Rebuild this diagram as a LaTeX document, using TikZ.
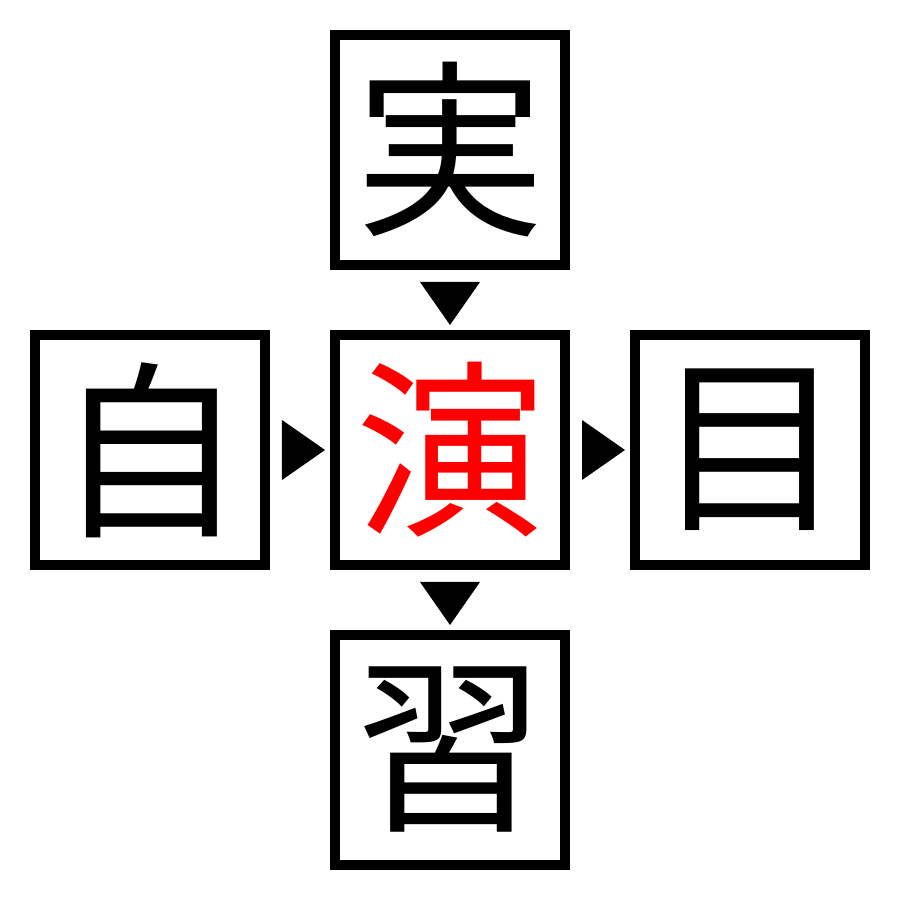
\documentclass[tikz,border=0pt]{standalone}
\usepackage{fontspec}
\newfontfamily\cjk{Noto Sans CJK JP}
\usetikzlibrary{positioning,calc}

\tikzset{
  kanji/.style={draw, line width=0.1cm, minimum size=2.3cm, inner sep=0pt,
                font=\cjk\fontsize{54}{54}\selectfont},
  tip/.style={fill=black}
}

\begin{document}
\begin{tikzpicture}
      \useasboundingbox (0,0) rectangle (9,9);  % page

      % boxes
      \node[kanji, text=red] (en) at (4.5,4.5) {演};  % centre box
      \node[kanji] (jitsu) [above=0.6cm of en] {実};  % top box
      \node[kanji] (ji) [left=0.6cm of en] {自};  % left box
      \node[kanji] (moku) [right=0.6cm of en] {目};  % right box
      \node[kanji] (shuu) [below=0.6cm of en] {習};  % bottom box

      % triangles
      \fill[tip] ($(jitsu.south)+(-0.3,-0.12)$) -- ($(jitsu.south)+(0.3,-0.12)$) -- ($(jitsu.south)+(0,-0.55)$) -- cycle;  % top to centre
      \fill[tip] ($(en.south)+(-0.3,-0.12)$) -- ($(en.south)+(0.3,-0.12)$) -- ($(en.south)+(0,-0.55)$) -- cycle;  % centre to bottom
      \fill[tip] ($(ji.east)+(0.12,0.3)$) -- ($(ji.east)+(0.12,-0.3)$) -- ($(ji.east)+(0.55,0)$) -- cycle;  % left to centre
      \fill[tip] ($(en.east)+(0.12,0.3)$) -- ($(en.east)+(0.12,-0.3)$) -- ($(en.east)+(0.55,0)$) -- cycle;  % centre to right
\end{tikzpicture}
\end{document}
